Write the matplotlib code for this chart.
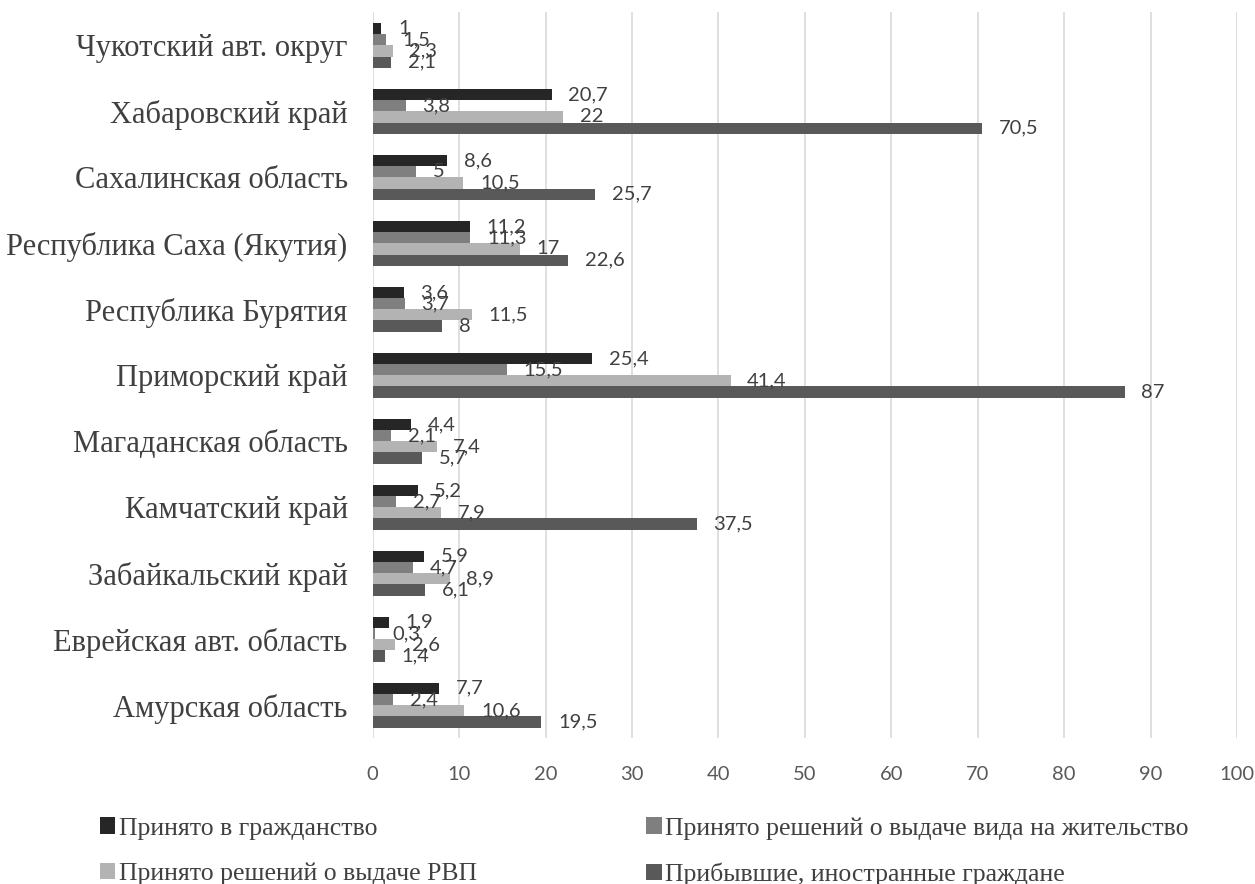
import numpy as np
import matplotlib.pyplot as plt

regions = ['Амурская область', 'Еврейская авт. область', 'Забайкальский край',
           'Камчатский край', 'Магаданская область', 'Приморский край',
           'Республика Бурятия', 'Республика Саха (Якутия)', 'Сахалинская область',
           'Хабаровский край', 'Чукотский авт. округ']

citizenship = [7.7, 1.9, 5.9, 5.2, 4.4, 25.4, 3.6, 11.2, 8.6, 20.7, 1]
residence = [2.4, 0.3, 4.7, 2.7, 2.1, 15.5, 3.7, 11.3, 5, 3.8, 1.5]
rvp = [10.6, 2.6, 8.9, 7.9, 7.4, 41.4, 11.5, 17, 10.5, 22, 2.3]
arrived = [19.5, 1.4, 6.1, 37.5, 5.7, 87, 8, 22.6, 25.7, 70.5, 2.1]

series = [
    ('Принято в гражданство', citizenship, '#262626'),
    ('Принято решений о выдаче вида на жительство', residence, '#7f7f7f'),
    ('Принято решений о выдаче РВП', rvp, '#b3b3b3'),
    ('Прибывшие, иностранные граждане', arrived, '#595959'),
]

fig = plt.figure(figsize=(12.55, 8.84), dpi=100)
ax = fig.add_axes([0.297, 0.165, 0.6887, 0.821])

y = np.arange(len(regions))
h = 0.17
offsets = [1.5, 0.5, -0.5, -1.5]
label_font = 'Lato'
for (name, vals, color), off in zip(series, offsets):
    bars = ax.barh(y + off * h, vals, height=h, color=color, label=name)
    ax.bar_label(bars, labels=[str(v).replace('.', ',') for v in vals],
                 padding=12, fontsize=14.5, color='#404040', family=label_font)

ax.set_xlim(0, 100)
ax.set_ylim(-0.5, len(regions) - 0.5)
ax.set_xticks(np.arange(0, 101, 10))
ax.set_yticks(y)
ax.set_yticklabels(regions, family='Liberation Serif', fontsize=22, color='#404040')
for lab in ax.get_xticklabels():
    lab.set_family(label_font)
    lab.set_fontsize(14.5)
    lab.set_color('#595959')
ax.tick_params(axis='both', length=0)
ax.tick_params(axis='x', pad=20)
ax.tick_params(axis='y', pad=18)
ax.grid(axis='x', color='#d9d9d9', linewidth=1.2)
ax.set_axisbelow(True)
for s in ax.spines.values():
    s.set_visible(False)

# legend filled row by row, as in the original
handles, labels = ax.get_legend_handles_labels()
order = [0, 2, 1, 3]
fig.legend([handles[i] for i in order], [labels[i] for i in order],
           loc='upper left', bbox_to_anchor=(0.0797, 0.0757), ncol=2,
           frameon=False, prop={'family': 'Liberation Serif', 'size': 18.5},
           labelcolor='#404040', handlelength=0.6, handleheight=0.6,
           handletextpad=0.12, columnspacing=6.6, labelspacing=0.9,
           borderpad=0, borderaxespad=0)

fig.savefig('out.png', dpi=100)
